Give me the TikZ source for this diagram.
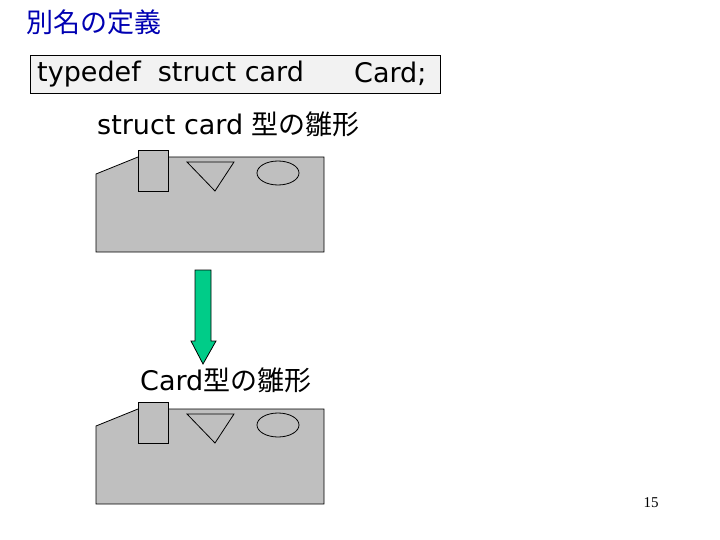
\documentclass[tikz,border=0pt]{standalone}
\usepackage{fontspec}
\setmainfont{DejaVu Sans}
\newfontfamily\jp{Noto Sans CJK JP}
\newfontfamily\serifnum{Liberation Serif}
\usetikzlibrary{shapes.geometric}
\begin{document}
\begin{tikzpicture}[x=1pt,y=-1pt,
  cardfill/.style={fill=black!25,draw=black,line width=0.8pt},
  shp/.style={draw=black,line width=0.8pt},
  lbl/.style={inner sep=0pt,anchor=west,font=\fontsize{27}{30}\selectfont}]
\useasboundingbox (0,0) rectangle (720,540);
\node[inner sep=0pt,anchor=west,text=blue!70!black,font=\jp\fontsize{27}{30}\selectfont] (title) at (26,22) {別名の定義};
\node[draw,line width=0.8pt,fill=black!5,minimum width=410pt,minimum height=38pt,anchor=north west] (box) at (30,55) {};
\node[lbl] (td) at (37,74) {typedef\ \ struct card};
\node[lbl] (cd) at (354,74) {Card;};
\node[lbl] (l1) at (97,124) {struct card \jp 型の雛形};
\node[lbl] (l2) at (140,380) {Card\jp 型の雛形};
\foreach \dy/\n in {0/a,252/b}{
  \begin{scope}[yshift=-\dy pt]
  \draw[cardfill] (96,174) -- (138,157) -- (324,157) -- (324,252) -- (96,252) -- cycle;
  \draw[cardfill] (138,150) rectangle (168,191);
  \draw[shp] (187,162) -- (234,162) -- (215,191) -- cycle;
  \draw[shp] (278,173) ellipse (21 and 12);
  \end{scope}
}
\fill[fill={rgb,255:red,0;green,204;blue,136},draw=black,line width=0.8pt]
  (195,270) -- (211,270) -- (211,341) -- (216,341) -- (203,364) -- (191,341) -- (195,341) -- cycle;
\node[inner sep=0pt,font=\serifnum\fontsize{15}{17}\selectfont] (pg) at (651,503) {15};
\end{tikzpicture}
\end{document}
